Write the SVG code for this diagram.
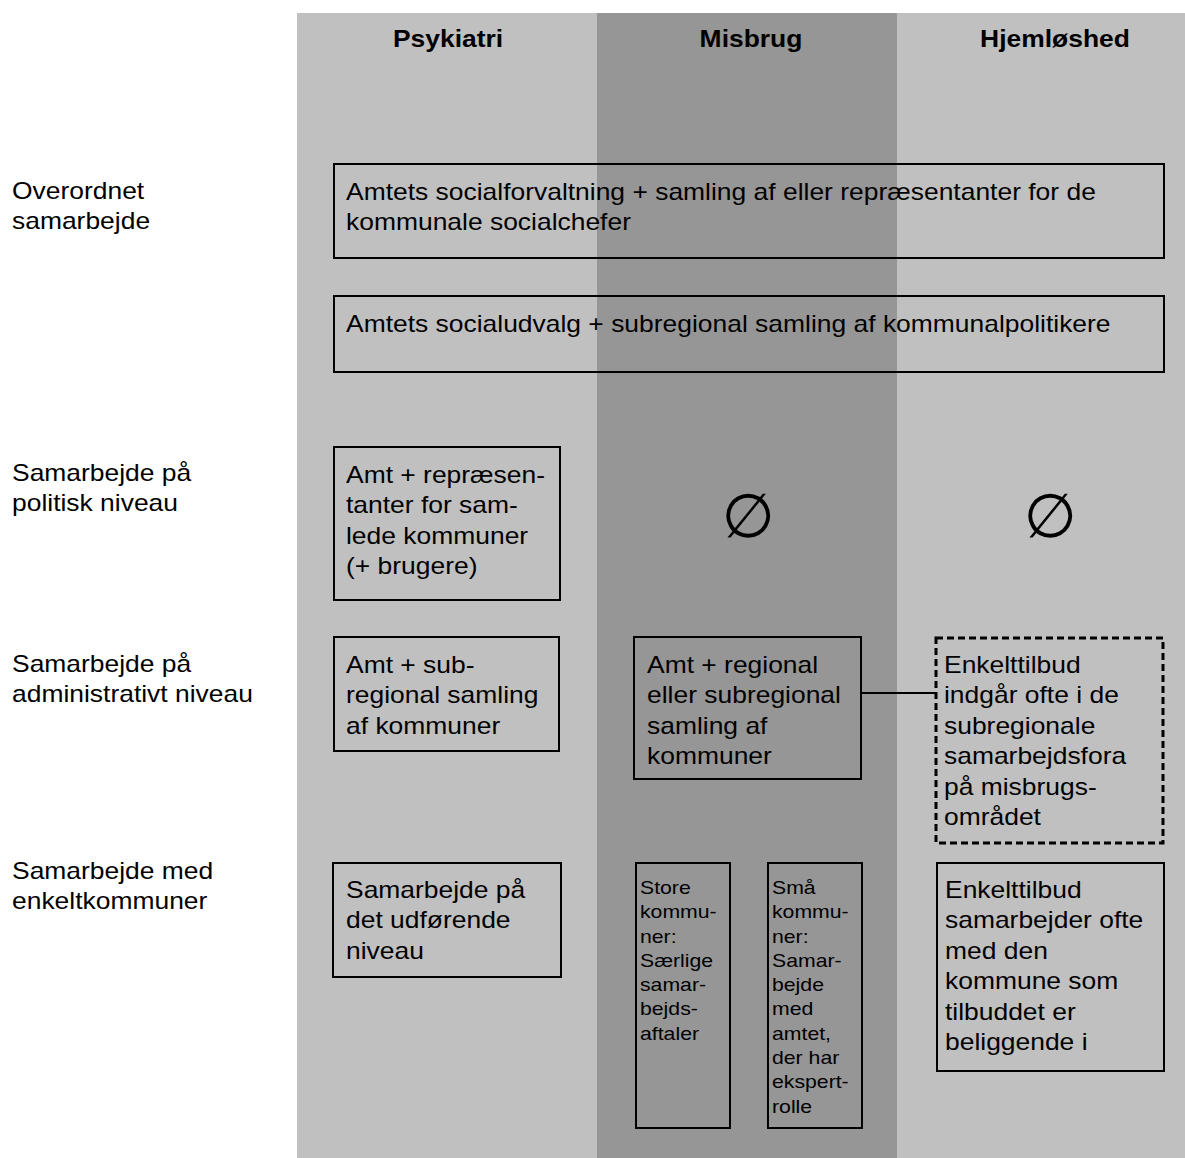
<svg xmlns="http://www.w3.org/2000/svg" width="1185" height="1158" viewBox="0 0 1185 1158">
<style>
text{font-family:"Liberation Sans",Arial,sans-serif;fill:#000}
.t{font-size:23.4px}
.s{font-size:18.8px}
.h{font-size:23.4px;font-weight:bold;text-anchor:middle}
.box{fill:none;stroke:#000;stroke-width:2}
.dash{fill:none;stroke:#000;stroke-width:3;stroke-dasharray:7 4}
.sym{font-family:"DejaVu Sans",sans-serif;font-size:61px;text-anchor:middle}
</style>
<rect width="1185" height="1158" fill="#fff"/>
<g id="columns">
<rect x="297" y="13" width="300" height="1145" fill="#c0c0c0"/>
<rect x="597" y="13" width="300" height="1145" fill="#969696"/>
<rect x="897" y="13" width="288" height="1145" fill="#c0c0c0"/>
</g>
<g id="headers">
<text class="h" transform="translate(448,47) scale(1.13,1)">Psykiatri</text>
<text class="h" transform="translate(751,47) scale(1.13,1)">Misbrug</text>
<text class="h" transform="translate(1055,47) scale(1.13,1)">Hjemløshed</text>
</g>
<g id="row-labels">
<text class="t" transform="translate(12,199) scale(1.13,1)"><tspan x="0">Overordnet</tspan><tspan x="0" dy="30.4">samarbejde</tspan></text>
<text class="t" transform="translate(12,481) scale(1.13,1)"><tspan x="0">Samarbejde på</tspan><tspan x="0" dy="30.4">politisk niveau</tspan></text>
<text class="t" transform="translate(12,672) scale(1.13,1)"><tspan x="0">Samarbejde på</tspan><tspan x="0" dy="30.4">administrativt niveau</tspan></text>
<text class="t" transform="translate(12,879) scale(1.13,1)"><tspan x="0">Samarbejde med</tspan><tspan x="0" dy="30.4">enkeltkommuner</tspan></text>
</g>
<g id="connectors">
<line x1="861" y1="693" x2="936" y2="693" stroke="#000" stroke-width="2"/>
</g>
<g id="node-socialforvaltning">
<rect class="box" x="334" y="164" width="830" height="94"/>
<text class="t" transform="translate(346,200) scale(1.13,1)"><tspan x="0">Amtets socialforvaltning + samling af eller repræsentanter for de</tspan><tspan x="0" dy="30.4">kommunale socialchefer</tspan></text>
</g>
<g id="node-socialudvalg">
<rect class="box" x="334" y="296" width="830" height="76"/>
<text class="t" transform="translate(346,332) scale(1.13,1)">Amtets socialudvalg + subregional samling af kommunalpolitikere</text>
</g>
<g id="node-psyk-politisk">
<rect class="box" x="334" y="447" width="226" height="153"/>
<text class="t" transform="translate(346,483) scale(1.13,1)"><tspan x="0">Amt + repræsen-</tspan><tspan x="0" dy="30.4">tanter for sam-</tspan><tspan x="0" dy="30.4">lede kommuner</tspan><tspan x="0" dy="30.4">(+ brugere)</tspan></text>
</g>
<g id="node-misbrug-politisk">
<text class="sym" x="748" y="537">∅</text>
</g>
<g id="node-hjem-politisk">
<text class="sym" x="1050" y="537">∅</text>
</g>
<g id="node-psyk-admin">
<rect class="box" x="334" y="637" width="225" height="114"/>
<text class="t" transform="translate(346,673) scale(1.13,1)"><tspan x="0">Amt + sub-</tspan><tspan x="0" dy="30.4">regional samling</tspan><tspan x="0" dy="30.4">af kommuner</tspan></text>
</g>
<g id="node-misbrug-admin">
<rect class="box" x="634" y="637" width="227" height="142"/>
<text class="t" transform="translate(647,673) scale(1.13,1)"><tspan x="0">Amt + regional</tspan><tspan x="0" dy="30.4">eller subregional</tspan><tspan x="0" dy="30.4">samling af</tspan><tspan x="0" dy="30.4">kommuner</tspan></text>
</g>
<g id="node-hjem-admin">
<rect class="dash" x="936" y="638" width="227" height="205"/>
<text class="t" transform="translate(944,673) scale(1.13,1)"><tspan x="0">Enkelttilbud</tspan><tspan x="0" dy="30.4">indgår ofte i de</tspan><tspan x="0" dy="30.4">subregionale</tspan><tspan x="0" dy="30.4">samarbejdsfora</tspan><tspan x="0" dy="30.4">på misbrugs-</tspan><tspan x="0" dy="30.4">området</tspan></text>
</g>
<g id="node-psyk-enkelt">
<rect class="box" x="333" y="863" width="228" height="114"/>
<text class="t" transform="translate(346,898) scale(1.13,1)"><tspan x="0">Samarbejde på</tspan><tspan x="0" dy="30.4">det udførende</tspan><tspan x="0" dy="30.4">niveau</tspan></text>
</g>
<g id="node-store-kommuner">
<rect class="box" x="636" y="863" width="94" height="265"/>
<text class="s" transform="translate(640,894) scale(1.13,1)"><tspan x="0">Store</tspan><tspan x="0" dy="24.3">kommu-</tspan><tspan x="0" dy="24.3">ner:</tspan><tspan x="0" dy="24.3">Særlige</tspan><tspan x="0" dy="24.3">samar-</tspan><tspan x="0" dy="24.3">bejds-</tspan><tspan x="0" dy="24.3">aftaler</tspan></text>
</g>
<g id="node-smaa-kommuner">
<rect class="box" x="768" y="863" width="94" height="265"/>
<text class="s" transform="translate(772,894) scale(1.13,1)"><tspan x="0">Små</tspan><tspan x="0" dy="24.3">kommu-</tspan><tspan x="0" dy="24.3">ner:</tspan><tspan x="0" dy="24.3">Samar-</tspan><tspan x="0" dy="24.3">bejde</tspan><tspan x="0" dy="24.3">med</tspan><tspan x="0" dy="24.3">amtet,</tspan><tspan x="0" dy="24.3">der har</tspan><tspan x="0" dy="24.3">ekspert-</tspan><tspan x="0" dy="24.3">rolle</tspan></text>
</g>
<g id="node-hjem-enkelt">
<rect class="box" x="937" y="863" width="227" height="208"/>
<text class="t" transform="translate(945,898) scale(1.13,1)"><tspan x="0">Enkelttilbud</tspan><tspan x="0" dy="30.4">samarbejder ofte</tspan><tspan x="0" dy="30.4">med den</tspan><tspan x="0" dy="30.4">kommune som</tspan><tspan x="0" dy="30.4">tilbuddet er</tspan><tspan x="0" dy="30.4">beliggende i</tspan></text>
</g>
</svg>
